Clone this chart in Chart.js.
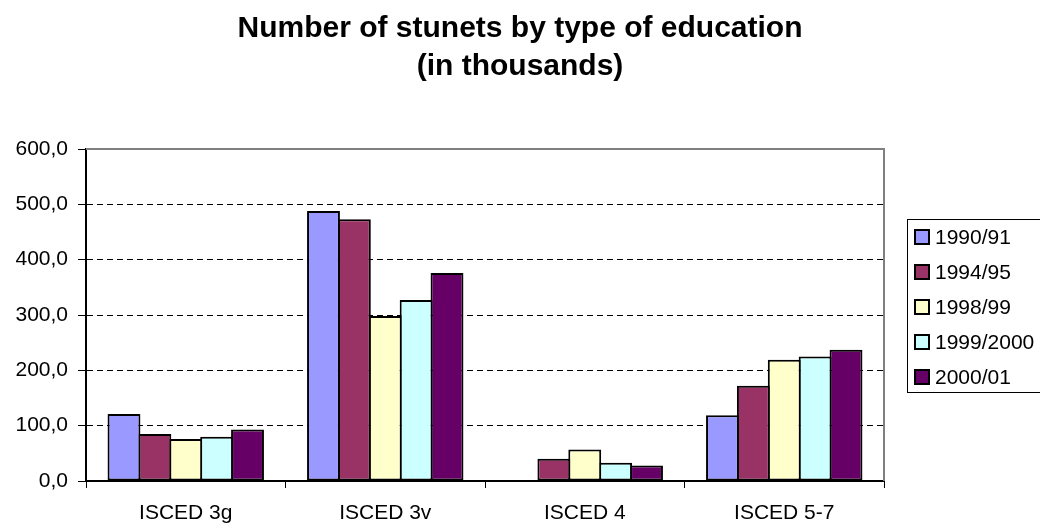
<!DOCTYPE html>
<html>
<head>
<meta charset="utf-8">
<title>Students by type of education</title>
<script src="https://cdn.jsdelivr.net/npm/chart.js@4.4.1/dist/chart.umd.min.js"></script>
<style>
  body { margin: 0; background: #fff; }
  #eduChart { display: block; }
</style>
</head>
<body>
<canvas id="eduChart" width="1040" height="524"></canvas>
<script>

//------------------------------------//
//--------------- DATA ---------------//
//------------------------------------//

const categories = ['ISCED 3g', 'ISCED 3v', 'ISCED 4', 'ISCED 5-7'];

const years = ['1990/91', '1994/95', '1998/99', '1999/2000', '2000/01'];

const values1990 = [121, 488, 0, 119];
const values1994 = [85, 473, 40, 172];
const values1998 = [76, 298, 57, 219];
const values1999 = [80, 327, 33, 225];
const values2000 = [93, 376, 28, 237];

const yTicks = [0, 100, 200, 300, 400, 500, 600];

const colors = ['#9999FF', '#993366', '#FFFFCC', '#CCFFFF', '#660066'];

const font = "'Liberation Sans', Arial, sans-serif";

//------------------------------------//
//------------ BAR CHART -------------//
//------------------------------------//

const eduCanvas = document.getElementById('eduChart');

let seriesValues = [values1990, values1994, values1998, values1999, values2000];

let barData = {
  labels: categories,
  datasets: seriesValues.map((vals, i) => ({
    label: years[i],
    data: vals,
    backgroundColor: colors[i],
    borderColor: '#000',
    borderWidth: 2,
    borderSkipped: false,
    // a bit over 1 so neighbouring bars share one border line
    barPercentage: 1.065,
    categoryPercentage: 0.774
  }))
};

// grey frame on the top and right of the plot area
const plotFrame = {
  id: 'plotFrame',
  afterDatasetsDraw(chart) {
    const {ctx, chartArea: a} = chart;
    ctx.save();
    ctx.strokeStyle = '#808080';
    ctx.lineWidth = 2;
    ctx.beginPath();
    ctx.moveTo(a.left, a.top);
    ctx.lineTo(a.right, a.top);
    ctx.lineTo(a.right, a.bottom);
    ctx.stroke();
    ctx.restore();
  }
};

// boxed legend on the right, built from the datasets
const boxLegend = {
  id: 'boxLegend',
  afterDraw(chart) {
    const ctx = chart.ctx;
    const left = 907, top = 219, bottom = 392;
    ctx.save();
    ctx.fillStyle = '#fff';
    ctx.fillRect(left, top, 200, bottom - top);
    ctx.strokeStyle = '#000';
    ctx.lineWidth = 1;
    ctx.strokeRect(left + 0.5, top + 0.5, 200, bottom - top);

    ctx.font = '21px ' + font;
    ctx.textBaseline = 'middle';
    ctx.textAlign = 'left';
    chart.data.datasets.forEach((ds, i) => {
      const y = 237 + i * 35;
      ctx.fillStyle = ds.backgroundColor;
      ctx.fillRect(915, y - 7, 14, 14);
      ctx.lineWidth = 2;
      ctx.strokeStyle = '#000';
      ctx.strokeRect(915, y - 7, 14, 14);
      ctx.fillStyle = '#000';
      ctx.fillText(ds.label, 935, y + 1);
    });
    ctx.restore();
  }
};

let barOptions = {
  responsive: false,
  animation: false,
  scales: {
    x: {
      grid: {
        display: true,
        drawOnChartArea: false,
        offset: true,
        tickLength: 7,
        tickColor: '#000',
        color: '#000'
      },
      border: { color: '#000', width: 2 },
      ticks: {
        color: '#000',
        font: { family: font, size: 21 },
        padding: 13,
        maxRotation: 0
      },
      afterFit(scale) { scale.height = 43; }
    },
    y: {
      min: 0,
      max: 600,
      afterBuildTicks(scale) {
        scale.ticks = yTicks.map(v => ({ value: v }));
      },
      grid: {
        color: ctx => (ctx.tick && (ctx.tick.value === 0 || ctx.tick.value === 600)) ? 'rgba(0,0,0,0)' : '#000',
        lineWidth: 1,
        tickLength: 8,
        tickColor: '#000'
      },
      border: { color: '#000', width: 2, dash: [6, 4] },
      ticks: {
        color: '#000',
        font: { family: font, size: 21 },
        padding: 10,
        callback: value => value.toFixed(1).replace('.', ',')
      },
      afterFit(scale) { scale.width = 86; }
    },
    // empty axis on the right keeps room for the legend box
    side: {
      type: 'linear',
      position: 'right',
      grid: { display: false },
      ticks: { display: false },
      border: { display: false },
      afterFit(scale) { scale.width = 156; }
    }
  },
  plugins: {
    legend: { display: false },
    tooltip: { enabled: false },
    title: {
      display: true,
      text: ['Number of stunets by type of education', '(in thousands)'],
      color: '#000',
      font: { family: font, size: 30, weight: 'bold', lineHeight: 38 / 30 },
      padding: { top: 10, bottom: 63 }
    }
  }
};

let barChart = new Chart(eduCanvas, {
  type: 'bar',
  data: barData,
  options: barOptions,
  plugins: [plotFrame, boxLegend]
});

</script>
</body>
</html>
